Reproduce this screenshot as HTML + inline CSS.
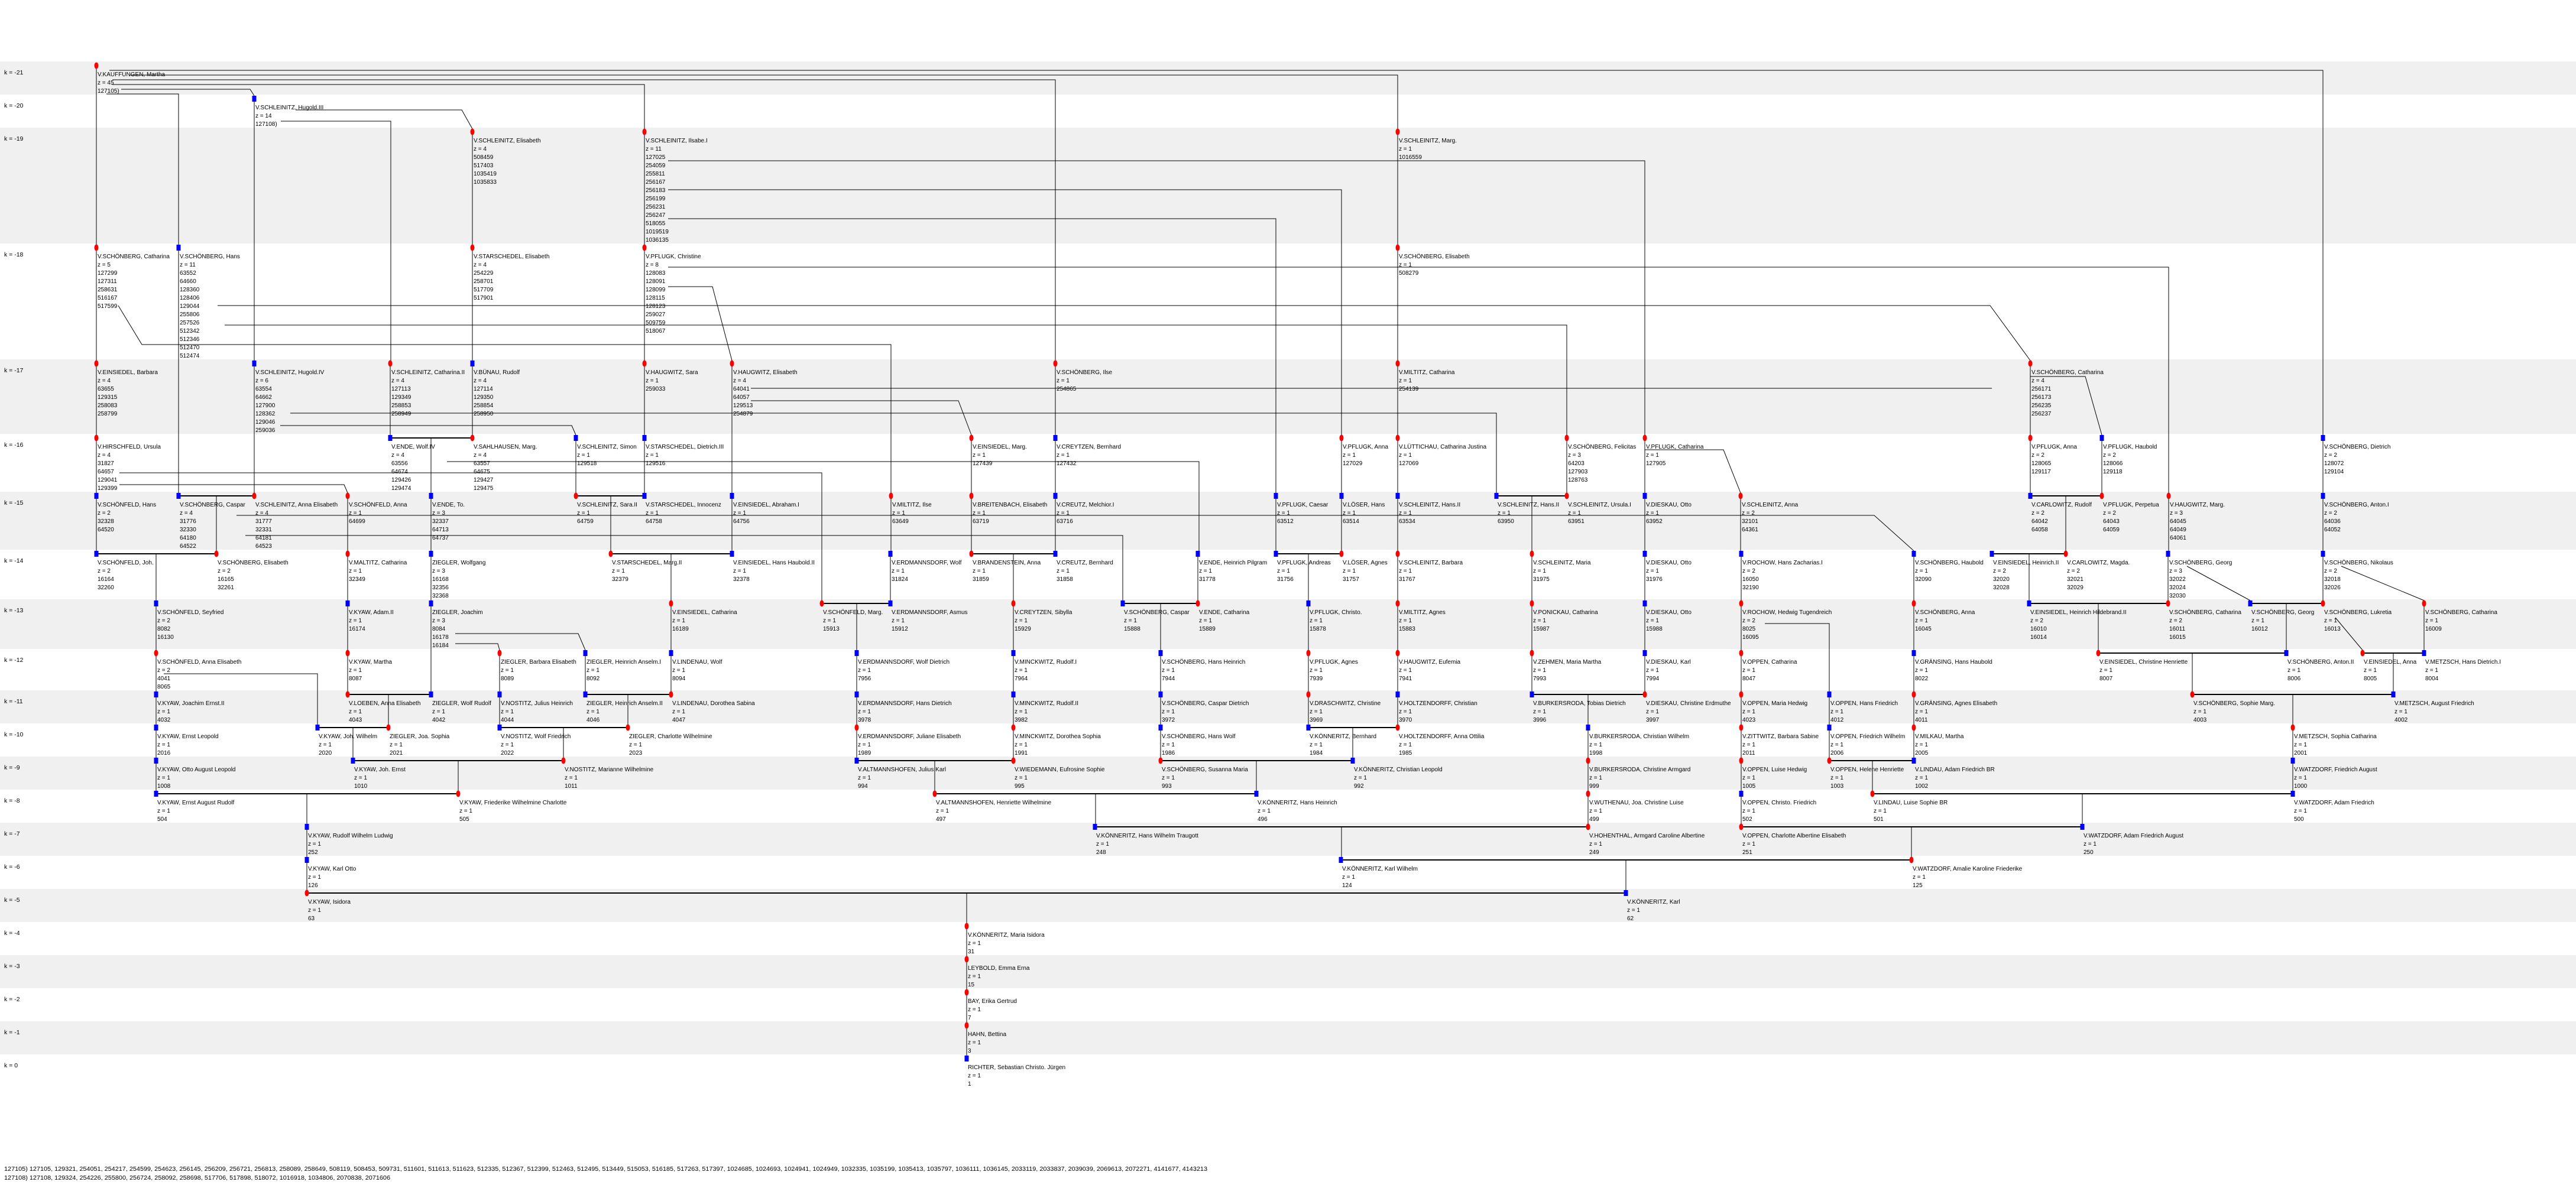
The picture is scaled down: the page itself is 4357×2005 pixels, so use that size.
<!DOCTYPE html>
<html><head><meta charset="utf-8"><style>
html,body{margin:0;padding:0;background:#fff;}
svg{display:block;}
text{font-family:"Liberation Sans",Arial,sans-serif;font-size:10px;fill:#000;}
.k{font-size:10.5px;}
.l{stroke:#000;stroke-width:1;fill:none;}
.c{stroke:#000;stroke-width:2;fill:none;}
</style></head><body>
<svg xmlns="http://www.w3.org/2000/svg" width="4357" height="2005" viewBox="0 0 4357 2005">
<rect width="4357" height="2005" fill="#fff"/>
<g fill="#f0f0f0">
<rect x="0" y="104" width="4357" height="56"/>
<rect x="0" y="216" width="4357" height="196"/>
<rect x="0" y="608" width="4357" height="126"/>
<rect x="0" y="832" width="4357" height="98"/>
<rect x="0" y="1014" width="4357" height="84"/>
<rect x="0" y="1168" width="4357" height="56"/>
<rect x="0" y="1280" width="4357" height="56"/>
<rect x="0" y="1392" width="4357" height="56"/>
<rect x="0" y="1504" width="4357" height="56"/>
<rect x="0" y="1616" width="4357" height="56"/>
<rect x="0" y="1728" width="4357" height="56"/>
</g>
<g>
<text class="k" x="7" y="126">k = -21</text>
<text class="k" x="7" y="182">k = -20</text>
<text class="k" x="7" y="238">k = -19</text>
<text class="k" x="7" y="434">k = -18</text>
<text class="k" x="7" y="630">k = -17</text>
<text class="k" x="7" y="756">k = -16</text>
<text class="k" x="7" y="854">k = -15</text>
<text class="k" x="7" y="952">k = -14</text>
<text class="k" x="7" y="1036">k = -13</text>
<text class="k" x="7" y="1120">k = -12</text>
<text class="k" x="7" y="1190">k = -11</text>
<text class="k" x="7" y="1246">k = -10</text>
<text class="k" x="7" y="1302">k = -9</text>
<text class="k" x="7" y="1358">k = -8</text>
<text class="k" x="7" y="1414">k = -7</text>
<text class="k" x="7" y="1470">k = -6</text>
<text class="k" x="7" y="1526">k = -5</text>
<text class="k" x="7" y="1582">k = -4</text>
<text class="k" x="7" y="1638">k = -3</text>
<text class="k" x="7" y="1694">k = -2</text>
<text class="k" x="7" y="1750">k = -1</text>
<text class="k" x="7" y="1806">k = 0</text>
</g>

<!-- long lines -->
<path class="l" d="
M185 119 H3929 V736
M220 127 H2364 V218
M190 135 H1785 V610
M190 143 H1090 V218
M205 151 H423 L430 162
M180 159 H302 V414
M500 186 H781 L799 218
M475 205 H661 V610
M1130 272 H2782 V736
M1130 321 H2269 V736
M1130 370 H2158 V834
M368 517 H3366 L3434 610
M380 550 H2650 V736
M200 517 L240 583 H1507 V834
M1130 452 H3668 V834
M1130 485 H1205 L1238 610
M491 699 H2531 V834
M474 720 H967 L974 736
M1270 657 H3369
M1270 678 H1621 L1643 736
M202 800 H1390 V1016
M202 820 H582 L588 834
M756 781 H2028 V932
M400 872 H3170 L3237 932
M415 906 H1899 V1016
M3434 637 H3527 L3555 736
M2782 761 H2915 L2944 834
M3699 958 L3806 1016
M3960 958 L4100 1016
M2985 1055 H3094 V1170
M3950 1045 L3996 1100
M770 1072 H978 L990 1100
M770 1089 H842 L845 1100
M277 1140 H537 V1226
"/>

<!-- child verticals -->
<path class="l" d="
M163 111 V414
M430 167 V610
M799 223 V414 M1090 223 V414 M2364 223 V414
M163 419 V610 M799 419 V610 M1090 419 V610 M2364 419 V610 M302 419 V834
M163 615 V736 M660 615 V736 M799 615 V736 M1090 615 V736 M1785 615 V736 M2364 615 V736 M3434 615 V736 M430 615 V834 M1238 615 V834
M729 741 V834 M163 741 V834 M974 741 V834 M1090 741 V834 M1643 741 V834 M1785 741 V834 M2269 741 V834 M2364 741 V834 M2650 741 V834 M2782 741 V834 M3434 741 V834 M3555 741 V834 M3929 741 V834
M163 839 V932 M588 839 V932 M729 839 V932 M1238 839 V932 M1507 839 V932 M1643 839 V932 M1785 839 V932 M2158 839 V932 M2269 839 V932 M2364 839 V932 M2782 839 V932 M2944 839 V932 M3668 839 V932 M3929 839 V932 M366 839 V932 M1033 839 V932 M2591 839 V932 M3494 839 V932
M264 937 V1016 M588 937 V1016 M729 937 V1016 M1135 937 V1016 M1506 937 V1016 M1714 937 V1016 M2026 937 V1016 M2213 937 V1016 M2364 937 V1016 M2591 937 V1016 M2782 937 V1016 M2945 937 V1016 M3237 937 V1016 M3432 937 V1016 M3667 937 V1016 M3929 937 V1016
M264 1021 V1100 M588 1021 V1100 M1135 1021 V1100 M1449 1021 V1100 M1714 1021 V1100 M1963 1021 V1100 M2213 1021 V1100 M2364 1021 V1100 M2591 1021 V1100 M2782 1021 V1100 M2945 1021 V1100 M3237 1021 V1100 M3549 1021 V1100 M3867 1021 V1100 M4100 1021 V1100 M729 1021 V1170
M264 1105 V1170 M588 1105 V1170 M845 1105 V1170 M990 1105 V1170 M1135 1105 V1170 M1449 1105 V1170 M1714 1105 V1170 M1963 1105 V1170 M2213 1105 V1170 M2364 1105 V1170 M2591 1105 V1170 M2782 1105 V1170 M2945 1105 V1170 M3237 1105 V1170 M3708 1105 V1170 M4048 1105 V1170
M264 1175 V1226 M657 1175 V1226 M845 1175 V1226 M1062 1175 V1226 M1449 1175 V1226 M1714 1175 V1226 M1963 1175 V1226 M2213 1175 V1226 M2364 1175 V1226 M2686 1175 V1226 M2945 1175 V1226 M3094 1175 V1226 M3237 1175 V1226 M3878 1175 V1226
M264 1231 V1282 M597 1231 V1282 M953 1231 V1282 M1449 1231 V1282 M1714 1231 V1282 M1963 1231 V1282 M2288 1231 V1282 M2686 1231 V1282 M2945 1231 V1282 M3094 1231 V1282 M3237 1231 V1282 M3878 1231 V1282
M264 1287 V1338 M775 1287 V1338 M1581 1287 V1338 M2125 1287 V1338 M2686 1287 V1338 M2945 1287 V1338 M3167 1287 V1338 M3878 1287 V1338
M519 1343 V1394 M1853 1343 V1394 M2686 1343 V1394 M2945 1343 V1394 M3522 1343 V1394
M519 1399 V1450 M2269 1399 V1450 M3233 1399 V1450
M519 1455 V1506 M2750 1455 V1506
M1635 1511 V1786
"/>

<!-- couple lines -->
<path class="c" d="
M660 741 H799
M302 839 H430 M974 839 H1090 M2531 839 H2650 M3434 839 H3555
M163 937 H366 M1033 937 H1238 M1643 937 H1785 M2158 937 H2269 M3369 937 H3494
M1390 1021 H1506 M1899 1021 H2026 M3432 1021 H3667 M3806 1021 H3929
M3549 1105 H3867 M3996 1105 H4100
M588 1175 H729 M990 1175 H1135 M2591 1175 H2782 M3708 1175 H4048
M537 1231 H657 M845 1231 H1062 M2213 1231 H2364
M597 1287 H953 M1449 1287 H1714 M1963 1287 H2288 M3094 1287 H3237
M264 1343 H775 M1581 1343 H2125 M3167 1343 H3878
M1852 1399 H2686 M2945 1399 H3522
M2268 1455 H3233
M519 1511 H2750
"/>

<!-- markers: red -->
<g fill="#f00">
<ellipse cx="163" cy="111" rx="3.5" ry="5.5"/>
<ellipse cx="799" cy="223" rx="3.5" ry="5.5"/><ellipse cx="1090" cy="223" rx="3.5" ry="5.5"/><ellipse cx="2364" cy="223" rx="3.5" ry="5.5"/>
<ellipse cx="163" cy="419" rx="3.5" ry="5.5"/><ellipse cx="799" cy="419" rx="3.5" ry="5.5"/><ellipse cx="1090" cy="419" rx="3.5" ry="5.5"/><ellipse cx="2364" cy="419" rx="3.5" ry="5.5"/>
<ellipse cx="163" cy="615" rx="3.5" ry="5.5"/><ellipse cx="660" cy="615" rx="3.5" ry="5.5"/><ellipse cx="1090" cy="615" rx="3.5" ry="5.5"/><ellipse cx="1238" cy="615" rx="3.5" ry="5.5"/><ellipse cx="1785" cy="615" rx="3.5" ry="5.5"/><ellipse cx="2364" cy="615" rx="3.5" ry="5.5"/><ellipse cx="3434" cy="615" rx="3.5" ry="5.5"/>
<ellipse cx="163" cy="741" rx="3.5" ry="5.5"/><ellipse cx="799" cy="741" rx="3.5" ry="5.5"/><ellipse cx="1643" cy="741" rx="3.5" ry="5.5"/><ellipse cx="2269" cy="741" rx="3.5" ry="5.5"/><ellipse cx="2364" cy="741" rx="3.5" ry="5.5"/><ellipse cx="2650" cy="741" rx="3.5" ry="5.5"/><ellipse cx="2782" cy="741" rx="3.5" ry="5.5"/><ellipse cx="3434" cy="741" rx="3.5" ry="5.5"/>
<ellipse cx="430" cy="839" rx="3.5" ry="5.5"/><ellipse cx="588" cy="839" rx="3.5" ry="5.5"/><ellipse cx="974" cy="839" rx="3.5" ry="5.5"/><ellipse cx="1507" cy="839" rx="3.5" ry="5.5"/><ellipse cx="1643" cy="839" rx="3.5" ry="5.5"/><ellipse cx="2650" cy="839" rx="3.5" ry="5.5"/><ellipse cx="2944" cy="839" rx="3.5" ry="5.5"/><ellipse cx="3555" cy="839" rx="3.5" ry="5.5"/><ellipse cx="3668" cy="839" rx="3.5" ry="5.5"/>
<ellipse cx="366" cy="937" rx="3.5" ry="5.5"/><ellipse cx="588" cy="937" rx="3.5" ry="5.5"/><ellipse cx="1033" cy="937" rx="3.5" ry="5.5"/><ellipse cx="1643" cy="937" rx="3.5" ry="5.5"/><ellipse cx="2269" cy="937" rx="3.5" ry="5.5"/><ellipse cx="2364" cy="937" rx="3.5" ry="5.5"/><ellipse cx="2591" cy="937" rx="3.5" ry="5.5"/><ellipse cx="3494" cy="937" rx="3.5" ry="5.5"/>
<ellipse cx="1135" cy="1021" rx="3.5" ry="5.5"/><ellipse cx="1390" cy="1021" rx="3.5" ry="5.5"/><ellipse cx="1714" cy="1021" rx="3.5" ry="5.5"/><ellipse cx="2026" cy="1021" rx="3.5" ry="5.5"/><ellipse cx="2364" cy="1021" rx="3.5" ry="5.5"/><ellipse cx="2591" cy="1021" rx="3.5" ry="5.5"/><ellipse cx="2945" cy="1021" rx="3.5" ry="5.5"/><ellipse cx="3237" cy="1021" rx="3.5" ry="5.5"/><ellipse cx="3667" cy="1021" rx="3.5" ry="5.5"/><ellipse cx="3929" cy="1021" rx="3.5" ry="5.5"/><ellipse cx="4100" cy="1021" rx="3.5" ry="5.5"/>
<ellipse cx="264" cy="1105" rx="3.5" ry="5.5"/><ellipse cx="588" cy="1105" rx="3.5" ry="5.5"/><ellipse cx="845" cy="1105" rx="3.5" ry="5.5"/><ellipse cx="2213" cy="1105" rx="3.5" ry="5.5"/><ellipse cx="2364" cy="1105" rx="3.5" ry="5.5"/><ellipse cx="2591" cy="1105" rx="3.5" ry="5.5"/><ellipse cx="2945" cy="1105" rx="3.5" ry="5.5"/><ellipse cx="3549" cy="1105" rx="3.5" ry="5.5"/><ellipse cx="3996" cy="1105" rx="3.5" ry="5.5"/>
<ellipse cx="588" cy="1175" rx="3.5" ry="5.5"/><ellipse cx="1135" cy="1175" rx="3.5" ry="5.5"/><ellipse cx="2213" cy="1175" rx="3.5" ry="5.5"/><ellipse cx="2782" cy="1175" rx="3.5" ry="5.5"/><ellipse cx="2945" cy="1175" rx="3.5" ry="5.5"/><ellipse cx="3237" cy="1175" rx="3.5" ry="5.5"/><ellipse cx="3708" cy="1175" rx="3.5" ry="5.5"/>
<ellipse cx="657" cy="1231" rx="3.5" ry="5.5"/><ellipse cx="1062" cy="1231" rx="3.5" ry="5.5"/><ellipse cx="1449" cy="1231" rx="3.5" ry="5.5"/><ellipse cx="1714" cy="1231" rx="3.5" ry="5.5"/><ellipse cx="2364" cy="1231" rx="3.5" ry="5.5"/><ellipse cx="2945" cy="1231" rx="3.5" ry="5.5"/><ellipse cx="3237" cy="1231" rx="3.5" ry="5.5"/><ellipse cx="3878" cy="1231" rx="3.5" ry="5.5"/>
<ellipse cx="953" cy="1287" rx="3.5" ry="5.5"/><ellipse cx="1714" cy="1287" rx="3.5" ry="5.5"/><ellipse cx="1963" cy="1287" rx="3.5" ry="5.5"/><ellipse cx="2686" cy="1287" rx="3.5" ry="5.5"/><ellipse cx="2945" cy="1287" rx="3.5" ry="5.5"/><ellipse cx="3094" cy="1287" rx="3.5" ry="5.5"/>
<ellipse cx="775" cy="1343" rx="3.5" ry="5.5"/><ellipse cx="1581" cy="1343" rx="3.5" ry="5.5"/><ellipse cx="2686" cy="1343" rx="3.5" ry="5.5"/><ellipse cx="3167" cy="1343" rx="3.5" ry="5.5"/>
<ellipse cx="2686" cy="1399" rx="3.5" ry="5.5"/><ellipse cx="2945" cy="1399" rx="3.5" ry="5.5"/>
<ellipse cx="3233" cy="1455" rx="3.5" ry="5.5"/>
<ellipse cx="519" cy="1511" rx="3.5" ry="5.5"/>
<ellipse cx="1635" cy="1567" rx="3.5" ry="5.5"/><ellipse cx="1635" cy="1623" rx="3.5" ry="5.5"/><ellipse cx="1635" cy="1679" rx="3.5" ry="5.5"/><ellipse cx="1635" cy="1735" rx="3.5" ry="5.5"/>
</g>
<!-- markers: blue -->
<g fill="#00f">
<rect x="426.5" y="162" width="7" height="10"/>
<rect x="298.5" y="414" width="7" height="10"/>
<rect x="426.5" y="610" width="7" height="10"/><rect x="795.5" y="610" width="7" height="10"/>
<rect x="656.5" y="736" width="7" height="10"/><rect x="970.5" y="736" width="7" height="10"/><rect x="1086.5" y="736" width="7" height="10"/><rect x="1781.5" y="736" width="7" height="10"/><rect x="3551.5" y="736" width="7" height="10"/><rect x="3925.5" y="736" width="7" height="10"/>
<rect x="159.5" y="834" width="7" height="10"/><rect x="298.5" y="834" width="7" height="10"/><rect x="725.5" y="834" width="7" height="10"/><rect x="1086.5" y="834" width="7" height="10"/><rect x="1234.5" y="834" width="7" height="10"/><rect x="1781.5" y="834" width="7" height="10"/><rect x="2154.5" y="834" width="7" height="10"/><rect x="2265.5" y="834" width="7" height="10"/><rect x="2360.5" y="834" width="7" height="10"/><rect x="2527.5" y="834" width="7" height="10"/><rect x="2778.5" y="834" width="7" height="10"/><rect x="3430.5" y="834" width="7" height="10"/><rect x="3925.5" y="834" width="7" height="10"/>
<rect x="159.5" y="932" width="7" height="10"/><rect x="725.5" y="932" width="7" height="10"/><rect x="1234.5" y="932" width="7" height="10"/><rect x="1502.5" y="932" width="7" height="10"/><rect x="1781.5" y="932" width="7" height="10"/><rect x="2022.5" y="932" width="7" height="10"/><rect x="2154.5" y="932" width="7" height="10"/><rect x="2778.5" y="932" width="7" height="10"/><rect x="2941.5" y="932" width="7" height="10"/><rect x="3233.5" y="932" width="7" height="10"/><rect x="3365.5" y="932" width="7" height="10"/><rect x="3663.5" y="932" width="7" height="10"/><rect x="3925.5" y="932" width="7" height="10"/>
<rect x="260.5" y="1016" width="7" height="10"/><rect x="584.5" y="1016" width="7" height="10"/><rect x="725.5" y="1016" width="7" height="10"/><rect x="1502.5" y="1016" width="7" height="10"/><rect x="1895.5" y="1016" width="7" height="10"/><rect x="2209.5" y="1016" width="7" height="10"/><rect x="2778.5" y="1016" width="7" height="10"/><rect x="3428.5" y="1016" width="7" height="10"/><rect x="3802.5" y="1016" width="7" height="10"/>
<rect x="986.5" y="1100" width="7" height="10"/><rect x="1131.5" y="1100" width="7" height="10"/><rect x="1445.5" y="1100" width="7" height="10"/><rect x="1710.5" y="1100" width="7" height="10"/><rect x="1959.5" y="1100" width="7" height="10"/><rect x="2778.5" y="1100" width="7" height="10"/><rect x="3233.5" y="1100" width="7" height="10"/><rect x="3863.5" y="1100" width="7" height="10"/><rect x="4096.5" y="1100" width="7" height="10"/>
<rect x="260.5" y="1170" width="7" height="10"/><rect x="725.5" y="1170" width="7" height="10"/><rect x="841.5" y="1170" width="7" height="10"/><rect x="986.5" y="1170" width="7" height="10"/><rect x="1445.5" y="1170" width="7" height="10"/><rect x="1710.5" y="1170" width="7" height="10"/><rect x="1959.5" y="1170" width="7" height="10"/><rect x="2360.5" y="1170" width="7" height="10"/><rect x="2587.5" y="1170" width="7" height="10"/><rect x="3090.5" y="1170" width="7" height="10"/><rect x="4044.5" y="1170" width="7" height="10"/>
<rect x="260.5" y="1226" width="7" height="10"/><rect x="533.5" y="1226" width="7" height="10"/><rect x="841.5" y="1226" width="7" height="10"/><rect x="1959.5" y="1226" width="7" height="10"/><rect x="2209.5" y="1226" width="7" height="10"/><rect x="2682.5" y="1226" width="7" height="10"/><rect x="3090.5" y="1226" width="7" height="10"/>
<rect x="260.5" y="1282" width="7" height="10"/><rect x="593.5" y="1282" width="7" height="10"/><rect x="1445.5" y="1282" width="7" height="10"/><rect x="2284.5" y="1282" width="7" height="10"/><rect x="3233.5" y="1282" width="7" height="10"/><rect x="3874.5" y="1282" width="7" height="10"/>
<rect x="260.5" y="1338" width="7" height="10"/><rect x="2121.5" y="1338" width="7" height="10"/><rect x="2941.5" y="1338" width="7" height="10"/><rect x="3874.5" y="1338" width="7" height="10"/>
<rect x="515.5" y="1394" width="7" height="10"/><rect x="1848.5" y="1394" width="7" height="10"/><rect x="3518.5" y="1394" width="7" height="10"/>
<rect x="515.5" y="1450" width="7" height="10"/><rect x="2264.5" y="1450" width="7" height="10"/>
<rect x="2746.5" y="1506" width="7" height="10"/>
<rect x="1631.5" y="1786" width="7" height="10"/>
</g>

<!-- node texts -->
<g>
<text x="165" y="129">V.KAUFFUNGEN, Martha<tspan x="165" dy="14">z = 45</tspan><tspan x="165" dy="14">127105)</tspan></text>
<text x="432" y="185">V.SCHLEINITZ, Hugold.III<tspan x="432" dy="14">z = 14</tspan><tspan x="432" dy="14">127108)</tspan></text>

<text x="801" y="241">V.SCHLEINITZ, Elisabeth<tspan x="801" dy="14">z = 4</tspan><tspan x="801" dy="14">508459</tspan><tspan x="801" dy="14">517403</tspan><tspan x="801" dy="14">1035419</tspan><tspan x="801" dy="14">1035833</tspan></text>
<text x="1092" y="241">V.SCHLEINITZ, Ilsabe.I<tspan x="1092" dy="14">z = 11</tspan><tspan x="1092" dy="14">127025</tspan><tspan x="1092" dy="14">254059</tspan><tspan x="1092" dy="14">255811</tspan><tspan x="1092" dy="14">256167</tspan><tspan x="1092" dy="14">256183</tspan><tspan x="1092" dy="14">256199</tspan><tspan x="1092" dy="14">256231</tspan><tspan x="1092" dy="14">256247</tspan><tspan x="1092" dy="14">518055</tspan><tspan x="1092" dy="14">1019519</tspan><tspan x="1092" dy="14">1036135</tspan></text>
<text x="2366" y="241">V.SCHLEINITZ, Marg.<tspan x="2366" dy="14">z = 1</tspan><tspan x="2366" dy="14">1016559</tspan></text>

<text x="165" y="437">V.SCHÖNBERG, Catharina<tspan x="165" dy="14">z = 5</tspan><tspan x="165" dy="14">127299</tspan><tspan x="165" dy="14">127311</tspan><tspan x="165" dy="14">258631</tspan><tspan x="165" dy="14">516167</tspan><tspan x="165" dy="14">517599</tspan></text>
<text x="304" y="437">V.SCHÖNBERG, Hans<tspan x="304" dy="14">z = 11</tspan><tspan x="304" dy="14">63552</tspan><tspan x="304" dy="14">64660</tspan><tspan x="304" dy="14">128360</tspan><tspan x="304" dy="14">128406</tspan><tspan x="304" dy="14">129044</tspan><tspan x="304" dy="14">255806</tspan><tspan x="304" dy="14">257526</tspan><tspan x="304" dy="14">512342</tspan><tspan x="304" dy="14">512346</tspan><tspan x="304" dy="14">512470</tspan><tspan x="304" dy="14">512474</tspan></text>
<text x="801" y="437">V.STARSCHEDEL, Elisabeth<tspan x="801" dy="14">z = 4</tspan><tspan x="801" dy="14">254229</tspan><tspan x="801" dy="14">258701</tspan><tspan x="801" dy="14">517709</tspan><tspan x="801" dy="14">517901</tspan></text>
<text x="1092" y="437">V.PFLUGK, Christine<tspan x="1092" dy="14">z = 8</tspan><tspan x="1092" dy="14">128083</tspan><tspan x="1092" dy="14">128091</tspan><tspan x="1092" dy="14">128099</tspan><tspan x="1092" dy="14">128115</tspan><tspan x="1092" dy="14">128123</tspan><tspan x="1092" dy="14">259027</tspan><tspan x="1092" dy="14">509759</tspan><tspan x="1092" dy="14">518067</tspan></text>
<text x="2366" y="437">V.SCHÖNBERG, Elisabeth<tspan x="2366" dy="14">z = 1</tspan><tspan x="2366" dy="14">508279</tspan></text>

<text x="165" y="633">V.EINSIEDEL, Barbara<tspan x="165" dy="14">z = 4</tspan><tspan x="165" dy="14">63655</tspan><tspan x="165" dy="14">129315</tspan><tspan x="165" dy="14">258083</tspan><tspan x="165" dy="14">258799</tspan></text>
<text x="432" y="633">V.SCHLEINITZ, Hugold.IV<tspan x="432" dy="14">z = 6</tspan><tspan x="432" dy="14">63554</tspan><tspan x="432" dy="14">64662</tspan><tspan x="432" dy="14">127900</tspan><tspan x="432" dy="14">128362</tspan><tspan x="432" dy="14">129046</tspan><tspan x="432" dy="14">259036</tspan></text>
<text x="662" y="633">V.SCHLEINITZ, Catharina.II<tspan x="662" dy="14">z = 4</tspan><tspan x="662" dy="14">127113</tspan><tspan x="662" dy="14">129349</tspan><tspan x="662" dy="14">258853</tspan><tspan x="662" dy="14">258949</tspan></text>
<text x="801" y="633">V.BÜNAU, Rudolf<tspan x="801" dy="14">z = 4</tspan><tspan x="801" dy="14">127114</tspan><tspan x="801" dy="14">129350</tspan><tspan x="801" dy="14">258854</tspan><tspan x="801" dy="14">258950</tspan></text>
<text x="1092" y="633">V.HAUGWITZ, Sara<tspan x="1092" dy="14">z = 1</tspan><tspan x="1092" dy="14">259033</tspan></text>
<text x="1240" y="633">V.HAUGWITZ, Elisabeth<tspan x="1240" dy="14">z = 4</tspan><tspan x="1240" dy="14">64041</tspan><tspan x="1240" dy="14">64057</tspan><tspan x="1240" dy="14">129513</tspan><tspan x="1240" dy="14">254879</tspan></text>
<text x="1787" y="633">V.SCHÖNBERG, Ilse<tspan x="1787" dy="14">z = 1</tspan><tspan x="1787" dy="14">254865</tspan></text>
<text x="2366" y="633">V.MILTITZ, Catharina<tspan x="2366" dy="14">z = 1</tspan><tspan x="2366" dy="14">254139</tspan></text>
<text x="3436" y="633">V.SCHÖNBERG, Catharina<tspan x="3436" dy="14">z = 4</tspan><tspan x="3436" dy="14">256171</tspan><tspan x="3436" dy="14">256173</tspan><tspan x="3436" dy="14">256235</tspan><tspan x="3436" dy="14">256237</tspan></text>

<text x="165" y="759">V.HIRSCHFELD, Ursula<tspan x="165" dy="14">z = 4</tspan><tspan x="165" dy="14">31827</tspan><tspan x="165" dy="14">64657</tspan><tspan x="165" dy="14">129041</tspan><tspan x="165" dy="14">129399</tspan></text>
<text x="662" y="759">V.ENDE, Wolf.IV<tspan x="662" dy="14">z = 4</tspan><tspan x="662" dy="14">63556</tspan><tspan x="662" dy="14">64674</tspan><tspan x="662" dy="14">129426</tspan><tspan x="662" dy="14">129474</tspan></text>
<text x="801" y="759">V.SAHLHAUSEN, Marg.<tspan x="801" dy="14">z = 4</tspan><tspan x="801" dy="14">63557</tspan><tspan x="801" dy="14">64675</tspan><tspan x="801" dy="14">129427</tspan><tspan x="801" dy="14">129475</tspan></text>
<text x="976" y="759">V.SCHLEINITZ, Simon<tspan x="976" dy="14">z = 1</tspan><tspan x="976" dy="14">129518</tspan></text>
<text x="1092" y="759">V.STARSCHEDEL, Dietrich.III<tspan x="1092" dy="14">z = 1</tspan><tspan x="1092" dy="14">129516</tspan></text>
<text x="1645" y="759">V.EINSIEDEL, Marg.<tspan x="1645" dy="14">z = 1</tspan><tspan x="1645" dy="14">127439</tspan></text>
<text x="1787" y="759">V.CREYTZEN, Bernhard<tspan x="1787" dy="14">z = 1</tspan><tspan x="1787" dy="14">127432</tspan></text>
<text x="2271" y="759">V.PFLUGK, Anna<tspan x="2271" dy="14">z = 1</tspan><tspan x="2271" dy="14">127029</tspan></text>
<text x="2366" y="759">V.LÜTTICHAU, Catharina Justina<tspan x="2366" dy="14">z = 1</tspan><tspan x="2366" dy="14">127069</tspan></text>
<text x="2652" y="759">V.SCHÖNBERG, Felicitas<tspan x="2652" dy="14">z = 3</tspan><tspan x="2652" dy="14">64203</tspan><tspan x="2652" dy="14">127903</tspan><tspan x="2652" dy="14">128763</tspan></text>
<text x="2784" y="759">V.PFLUGK, Catharina<tspan x="2784" dy="14">z = 1</tspan><tspan x="2784" dy="14">127905</tspan></text>
<text x="3436" y="759">V.PFLUGK, Anna<tspan x="3436" dy="14">z = 2</tspan><tspan x="3436" dy="14">128065</tspan><tspan x="3436" dy="14">129117</tspan></text>
<text x="3557" y="759">V.PFLUGK, Haubold<tspan x="3557" dy="14">z = 2</tspan><tspan x="3557" dy="14">128066</tspan><tspan x="3557" dy="14">129118</tspan></text>
<text x="3931" y="759">V.SCHÖNBERG, Dietrich<tspan x="3931" dy="14">z = 2</tspan><tspan x="3931" dy="14">128072</tspan><tspan x="3931" dy="14">129104</tspan></text>

<text x="165" y="857">V.SCHÖNFELD, Hans<tspan x="165" dy="14">z = 2</tspan><tspan x="165" dy="14">32328</tspan><tspan x="165" dy="14">64520</tspan></text>
<text x="304" y="857">V.SCHÖNBERG, Caspar<tspan x="304" dy="14">z = 4</tspan><tspan x="304" dy="14">31776</tspan><tspan x="304" dy="14">32330</tspan><tspan x="304" dy="14">64180</tspan><tspan x="304" dy="14">64522</tspan></text>
<text x="432" y="857">V.SCHLEINITZ, Anna Elisabeth<tspan x="432" dy="14">z = 4</tspan><tspan x="432" dy="14">31777</tspan><tspan x="432" dy="14">32331</tspan><tspan x="432" dy="14">64181</tspan><tspan x="432" dy="14">64523</tspan></text>
<text x="590" y="857">V.SCHÖNFELD, Anna<tspan x="590" dy="14">z = 1</tspan><tspan x="590" dy="14">64699</tspan></text>
<text x="731" y="857">V.ENDE, To.<tspan x="731" dy="14">z = 3</tspan><tspan x="731" dy="14">32337</tspan><tspan x="731" dy="14">64713</tspan><tspan x="731" dy="14">64737</tspan></text>
<text x="976" y="857">V.SCHLEINITZ, Sara.II<tspan x="976" dy="14">z = 1</tspan><tspan x="976" dy="14">64759</tspan></text>
<text x="1092" y="857">V.STARSCHEDEL, Innocenz<tspan x="1092" dy="14">z = 1</tspan><tspan x="1092" dy="14">64758</tspan></text>
<text x="1240" y="857">V.EINSIEDEL, Abraham.I<tspan x="1240" dy="14">z = 1</tspan><tspan x="1240" dy="14">64756</tspan></text>
<text x="1509" y="857">V.MILTITZ, Ilse<tspan x="1509" dy="14">z = 1</tspan><tspan x="1509" dy="14">63649</tspan></text>
<text x="1645" y="857">V.BREITENBACH, Elisabeth<tspan x="1645" dy="14">z = 1</tspan><tspan x="1645" dy="14">63719</tspan></text>
<text x="1787" y="857">V.CREUTZ, Melchior.I<tspan x="1787" dy="14">z = 1</tspan><tspan x="1787" dy="14">63716</tspan></text>
<text x="2160" y="857">V.PFLUGK, Caesar<tspan x="2160" dy="14">z = 1</tspan><tspan x="2160" dy="14">63512</tspan></text>
<text x="2271" y="857">V.LÖSER, Hans<tspan x="2271" dy="14">z = 1</tspan><tspan x="2271" dy="14">63514</tspan></text>
<text x="2366" y="857">V.SCHLEINITZ, Hans.II<tspan x="2366" dy="14">z = 1</tspan><tspan x="2366" dy="14">63534</tspan></text>
<text x="2533" y="857">V.SCHLEINITZ, Hans.II<tspan x="2533" dy="14">z = 1</tspan><tspan x="2533" dy="14">63950</tspan></text>
<text x="2652" y="857">V.SCHLEINITZ, Ursula.I<tspan x="2652" dy="14">z = 1</tspan><tspan x="2652" dy="14">63951</tspan></text>
<text x="2784" y="857">V.DIESKAU, Otto<tspan x="2784" dy="14">z = 1</tspan><tspan x="2784" dy="14">63952</tspan></text>
<text x="2946" y="857">V.SCHLEINITZ, Anna<tspan x="2946" dy="14">z = 2</tspan><tspan x="2946" dy="14">32101</tspan><tspan x="2946" dy="14">64361</tspan></text>
<text x="3436" y="857">V.CARLOWITZ, Rudolf<tspan x="3436" dy="14">z = 2</tspan><tspan x="3436" dy="14">64042</tspan><tspan x="3436" dy="14">64058</tspan></text>
<text x="3557" y="857">V.PFLUGK, Perpetua<tspan x="3557" dy="14">z = 2</tspan><tspan x="3557" dy="14">64043</tspan><tspan x="3557" dy="14">64059</tspan></text>
<text x="3670" y="857">V.HAUGWITZ, Marg.<tspan x="3670" dy="14">z = 3</tspan><tspan x="3670" dy="14">64045</tspan><tspan x="3670" dy="14">64049</tspan><tspan x="3670" dy="14">64061</tspan></text>
<text x="3931" y="857">V.SCHÖNBERG, Anton.I<tspan x="3931" dy="14">z = 2</tspan><tspan x="3931" dy="14">64036</tspan><tspan x="3931" dy="14">64052</tspan></text>

<text x="165" y="955">V.SCHÖNFELD, Joh.<tspan x="165" dy="14">z = 2</tspan><tspan x="165" dy="14">16164</tspan><tspan x="165" dy="14">32260</tspan></text>
<text x="368" y="955">V.SCHÖNBERG, Elisabeth<tspan x="368" dy="14">z = 2</tspan><tspan x="368" dy="14">16165</tspan><tspan x="368" dy="14">32261</tspan></text>
<text x="590" y="955">V.MALTITZ, Catharina<tspan x="590" dy="14">z = 1</tspan><tspan x="590" dy="14">32349</tspan></text>
<text x="731" y="955">ZIEGLER, Wolfgang<tspan x="731" dy="14">z = 3</tspan><tspan x="731" dy="14">16168</tspan><tspan x="731" dy="14">32356</tspan><tspan x="731" dy="14">32368</tspan></text>
<text x="1035" y="955">V.STARSCHEDEL, Marg.II<tspan x="1035" dy="14">z = 1</tspan><tspan x="1035" dy="14">32379</tspan></text>
<text x="1240" y="955">V.EINSIEDEL, Hans Haubold.II<tspan x="1240" dy="14">z = 1</tspan><tspan x="1240" dy="14">32378</tspan></text>
<text x="1508" y="955">V.ERDMANNSDORF, Wolf<tspan x="1508" dy="14">z = 1</tspan><tspan x="1508" dy="14">31824</tspan></text>
<text x="1645" y="955">V.BRANDENSTEIN, Anna<tspan x="1645" dy="14">z = 1</tspan><tspan x="1645" dy="14">31859</tspan></text>
<text x="1787" y="955">V.CREUTZ, Bernhard<tspan x="1787" dy="14">z = 1</tspan><tspan x="1787" dy="14">31858</tspan></text>
<text x="2028" y="955">V.ENDE, Heinrich Pilgram<tspan x="2028" dy="14">z = 1</tspan><tspan x="2028" dy="14">31778</tspan></text>
<text x="2160" y="955">V.PFLUGK, Andreas<tspan x="2160" dy="14">z = 1</tspan><tspan x="2160" dy="14">31756</tspan></text>
<text x="2271" y="955">V.LÖSER, Agnes<tspan x="2271" dy="14">z = 1</tspan><tspan x="2271" dy="14">31757</tspan></text>
<text x="2366" y="955">V.SCHLEINITZ, Barbara<tspan x="2366" dy="14">z = 1</tspan><tspan x="2366" dy="14">31767</tspan></text>
<text x="2593" y="955">V.SCHLEINITZ, Maria<tspan x="2593" dy="14">z = 1</tspan><tspan x="2593" dy="14">31975</tspan></text>
<text x="2784" y="955">V.DIESKAU, Otto<tspan x="2784" dy="14">z = 1</tspan><tspan x="2784" dy="14">31976</tspan></text>
<text x="2947" y="955">V.ROCHOW, Hans Zacharias.I<tspan x="2947" dy="14">z = 2</tspan><tspan x="2947" dy="14">16050</tspan><tspan x="2947" dy="14">32190</tspan></text>
<text x="3239" y="955">V.SCHÖNBERG, Haubold<tspan x="3239" dy="14">z = 1</tspan><tspan x="3239" dy="14">32090</tspan></text>
<text x="3371" y="955">V.EINSIEDEL, Heinrich.II<tspan x="3371" dy="14">z = 2</tspan><tspan x="3371" dy="14">32020</tspan><tspan x="3371" dy="14">32028</tspan></text>
<text x="3496" y="955">V.CARLOWITZ, Magda.<tspan x="3496" dy="14">z = 2</tspan><tspan x="3496" dy="14">32021</tspan><tspan x="3496" dy="14">32029</tspan></text>
<text x="3669" y="955">V.SCHÖNBERG, Georg<tspan x="3669" dy="14">z = 3</tspan><tspan x="3669" dy="14">32022</tspan><tspan x="3669" dy="14">32024</tspan><tspan x="3669" dy="14">32030</tspan></text>
<text x="3931" y="955">V.SCHÖNBERG, Nikolaus<tspan x="3931" dy="14">z = 2</tspan><tspan x="3931" dy="14">32018</tspan><tspan x="3931" dy="14">32026</tspan></text>

<text x="266" y="1039">V.SCHÖNFELD, Seyfried<tspan x="266" dy="14">z = 2</tspan><tspan x="266" dy="14">8082</tspan><tspan x="266" dy="14">16130</tspan></text>
<text x="590" y="1039">V.KYAW, Adam.II<tspan x="590" dy="14">z = 1</tspan><tspan x="590" dy="14">16174</tspan></text>
<text x="731" y="1039">ZIEGLER, Joachim<tspan x="731" dy="14">z = 3</tspan><tspan x="731" dy="14">8084</tspan><tspan x="731" dy="14">16178</tspan><tspan x="731" dy="14">16184</tspan></text>
<text x="1137" y="1039">V.EINSIEDEL, Catharina<tspan x="1137" dy="14">z = 1</tspan><tspan x="1137" dy="14">16189</tspan></text>
<text x="1392" y="1039">V.SCHÖNFELD, Marg.<tspan x="1392" dy="14">z = 1</tspan><tspan x="1392" dy="14">15913</tspan></text>
<text x="1508" y="1039">V.ERDMANNSDORF, Asmus<tspan x="1508" dy="14">z = 1</tspan><tspan x="1508" dy="14">15912</tspan></text>
<text x="1716" y="1039">V.CREYTZEN, Sibylla<tspan x="1716" dy="14">z = 1</tspan><tspan x="1716" dy="14">15929</tspan></text>
<text x="1901" y="1039">V.SCHÖNBERG, Caspar<tspan x="1901" dy="14">z = 1</tspan><tspan x="1901" dy="14">15888</tspan></text>
<text x="2028" y="1039">V.ENDE, Catharina<tspan x="2028" dy="14">z = 1</tspan><tspan x="2028" dy="14">15889</tspan></text>
<text x="2215" y="1039">V.PFLUGK, Christo.<tspan x="2215" dy="14">z = 1</tspan><tspan x="2215" dy="14">15878</tspan></text>
<text x="2366" y="1039">V.MILTITZ, Agnes<tspan x="2366" dy="14">z = 1</tspan><tspan x="2366" dy="14">15883</tspan></text>
<text x="2593" y="1039">V.PONICKAU, Catharina<tspan x="2593" dy="14">z = 1</tspan><tspan x="2593" dy="14">15987</tspan></text>
<text x="2784" y="1039">V.DIESKAU, Otto<tspan x="2784" dy="14">z = 1</tspan><tspan x="2784" dy="14">15988</tspan></text>
<text x="2947" y="1039">V.ROCHOW, Hedwig Tugendreich<tspan x="2947" dy="14">z = 2</tspan><tspan x="2947" dy="14">8025</tspan><tspan x="2947" dy="14">16095</tspan></text>
<text x="3239" y="1039">V.SCHÖNBERG, Anna<tspan x="3239" dy="14">z = 1</tspan><tspan x="3239" dy="14">16045</tspan></text>
<text x="3434" y="1039">V.EINSIEDEL, Heinrich Hildebrand.II<tspan x="3434" dy="14">z = 2</tspan><tspan x="3434" dy="14">16010</tspan><tspan x="3434" dy="14">16014</tspan></text>
<text x="3669" y="1039">V.SCHÖNBERG, Catharina<tspan x="3669" dy="14">z = 2</tspan><tspan x="3669" dy="14">16011</tspan><tspan x="3669" dy="14">16015</tspan></text>
<text x="3808" y="1039">V.SCHÖNBERG, Georg<tspan x="3808" dy="14">z = 1</tspan><tspan x="3808" dy="14">16012</tspan></text>
<text x="3931" y="1039">V.SCHÖNBERG, Lukretia<tspan x="3931" dy="14">z = 1</tspan><tspan x="3931" dy="14">16013</tspan></text>
<text x="4102" y="1039">V.SCHÖNBERG, Catharina<tspan x="4102" dy="14">z = 1</tspan><tspan x="4102" dy="14">16009</tspan></text>

<text x="266" y="1123">V.SCHÖNFELD, Anna Elisabeth<tspan x="266" dy="14">z = 2</tspan><tspan x="266" dy="14">4041</tspan><tspan x="266" dy="14">8065</tspan></text>
<text x="590" y="1123">V.KYAW, Martha<tspan x="590" dy="14">z = 1</tspan><tspan x="590" dy="14">8087</tspan></text>
<text x="847" y="1123">ZIEGLER, Barbara Elisabeth<tspan x="847" dy="14">z = 1</tspan><tspan x="847" dy="14">8089</tspan></text>
<text x="992" y="1123">ZIEGLER, Heinrich Anselm.I<tspan x="992" dy="14">z = 1</tspan><tspan x="992" dy="14">8092</tspan></text>
<text x="1137" y="1123">V.LINDENAU, Wolf<tspan x="1137" dy="14">z = 1</tspan><tspan x="1137" dy="14">8094</tspan></text>
<text x="1451" y="1123">V.ERDMANNSDORF, Wolf Dietrich<tspan x="1451" dy="14">z = 1</tspan><tspan x="1451" dy="14">7956</tspan></text>
<text x="1716" y="1123">V.MINCKWITZ, Rudolf.I<tspan x="1716" dy="14">z = 1</tspan><tspan x="1716" dy="14">7964</tspan></text>
<text x="1965" y="1123">V.SCHÖNBERG, Hans Heinrich<tspan x="1965" dy="14">z = 1</tspan><tspan x="1965" dy="14">7944</tspan></text>
<text x="2215" y="1123">V.PFLUGK, Agnes<tspan x="2215" dy="14">z = 1</tspan><tspan x="2215" dy="14">7939</tspan></text>
<text x="2366" y="1123">V.HAUGWITZ, Eufemia<tspan x="2366" dy="14">z = 1</tspan><tspan x="2366" dy="14">7941</tspan></text>
<text x="2593" y="1123">V.ZEHMEN, Maria Martha<tspan x="2593" dy="14">z = 1</tspan><tspan x="2593" dy="14">7993</tspan></text>
<text x="2784" y="1123">V.DIESKAU, Karl<tspan x="2784" dy="14">z = 1</tspan><tspan x="2784" dy="14">7994</tspan></text>
<text x="2947" y="1123">V.OPPEN, Catharina<tspan x="2947" dy="14">z = 1</tspan><tspan x="2947" dy="14">8047</tspan></text>
<text x="3239" y="1123">V.GRÄNSING, Hans Haubold<tspan x="3239" dy="14">z = 1</tspan><tspan x="3239" dy="14">8022</tspan></text>
<text x="3551" y="1123">V.EINSIEDEL, Christine Henriette<tspan x="3551" dy="14">z = 1</tspan><tspan x="3551" dy="14">8007</tspan></text>
<text x="3869" y="1123">V.SCHÖNBERG, Anton.II<tspan x="3869" dy="14">z = 1</tspan><tspan x="3869" dy="14">8006</tspan></text>
<text x="3998" y="1123">V.EINSIEDEL, Anna<tspan x="3998" dy="14">z = 1</tspan><tspan x="3998" dy="14">8005</tspan></text>
<text x="4102" y="1123">V.METZSCH, Hans Dietrich.I<tspan x="4102" dy="14">z = 1</tspan><tspan x="4102" dy="14">8004</tspan></text>

<text x="266" y="1193">V.KYAW, Joachim Ernst.II<tspan x="266" dy="14">z = 1</tspan><tspan x="266" dy="14">4032</tspan></text>
<text x="590" y="1193">V.LOEBEN, Anna Elisabeth<tspan x="590" dy="14">z = 1</tspan><tspan x="590" dy="14">4043</tspan></text>
<text x="731" y="1193">ZIEGLER, Wolf Rudolf<tspan x="731" dy="14">z = 1</tspan><tspan x="731" dy="14">4042</tspan></text>
<text x="847" y="1193">V.NOSTITZ, Julius Heinrich<tspan x="847" dy="14">z = 1</tspan><tspan x="847" dy="14">4044</tspan></text>
<text x="992" y="1193">ZIEGLER, Heinrich Anselm.II<tspan x="992" dy="14">z = 1</tspan><tspan x="992" dy="14">4046</tspan></text>
<text x="1137" y="1193">V.LINDENAU, Dorothea Sabina<tspan x="1137" dy="14">z = 1</tspan><tspan x="1137" dy="14">4047</tspan></text>
<text x="1451" y="1193">V.ERDMANNSDORF, Hans Dietrich<tspan x="1451" dy="14">z = 1</tspan><tspan x="1451" dy="14">3978</tspan></text>
<text x="1716" y="1193">V.MINCKWITZ, Rudolf.II<tspan x="1716" dy="14">z = 1</tspan><tspan x="1716" dy="14">3982</tspan></text>
<text x="1965" y="1193">V.SCHÖNBERG, Caspar Dietrich<tspan x="1965" dy="14">z = 1</tspan><tspan x="1965" dy="14">3972</tspan></text>
<text x="2215" y="1193">V.DRASCHWITZ, Christine<tspan x="2215" dy="14">z = 1</tspan><tspan x="2215" dy="14">3969</tspan></text>
<text x="2366" y="1193">V.HOLTZENDORFF, Christian<tspan x="2366" dy="14">z = 1</tspan><tspan x="2366" dy="14">3970</tspan></text>
<text x="2593" y="1193">V.BURKERSRODA, Tobias Dietrich<tspan x="2593" dy="14">z = 1</tspan><tspan x="2593" dy="14">3996</tspan></text>
<text x="2784" y="1193">V.DIESKAU, Christine Erdmuthe<tspan x="2784" dy="14">z = 1</tspan><tspan x="2784" dy="14">3997</tspan></text>
<text x="2947" y="1193">V.OPPEN, Maria Hedwig<tspan x="2947" dy="14">z = 1</tspan><tspan x="2947" dy="14">4023</tspan></text>
<text x="3096" y="1193">V.OPPEN, Hans Friedrich<tspan x="3096" dy="14">z = 1</tspan><tspan x="3096" dy="14">4012</tspan></text>
<text x="3239" y="1193">V.GRÄNSING, Agnes Elisabeth<tspan x="3239" dy="14">z = 1</tspan><tspan x="3239" dy="14">4011</tspan></text>
<text x="3710" y="1193">V.SCHÖNBERG, Sophie Marg.<tspan x="3710" dy="14">z = 1</tspan><tspan x="3710" dy="14">4003</tspan></text>
<text x="4050" y="1193">V.METZSCH, August Friedrich<tspan x="4050" dy="14">z = 1</tspan><tspan x="4050" dy="14">4002</tspan></text>

<text x="266" y="1249">V.KYAW, Ernst Leopold<tspan x="266" dy="14">z = 1</tspan><tspan x="266" dy="14">2016</tspan></text>
<text x="539" y="1249">V.KYAW, Joh. Wilhelm<tspan x="539" dy="14">z = 1</tspan><tspan x="539" dy="14">2020</tspan></text>
<text x="659" y="1249">ZIEGLER, Joa. Sophia<tspan x="659" dy="14">z = 1</tspan><tspan x="659" dy="14">2021</tspan></text>
<text x="847" y="1249">V.NOSTITZ, Wolf Friedrich<tspan x="847" dy="14">z = 1</tspan><tspan x="847" dy="14">2022</tspan></text>
<text x="1064" y="1249">ZIEGLER, Charlotte Wilhelmine<tspan x="1064" dy="14">z = 1</tspan><tspan x="1064" dy="14">2023</tspan></text>
<text x="1451" y="1249">V.ERDMANNSDORF, Juliane Elisabeth<tspan x="1451" dy="14">z = 1</tspan><tspan x="1451" dy="14">1989</tspan></text>
<text x="1716" y="1249">V.MINCKWITZ, Dorothea Sophia<tspan x="1716" dy="14">z = 1</tspan><tspan x="1716" dy="14">1991</tspan></text>
<text x="1965" y="1249">V.SCHÖNBERG, Hans Wolf<tspan x="1965" dy="14">z = 1</tspan><tspan x="1965" dy="14">1986</tspan></text>
<text x="2215" y="1249">V.KÖNNERITZ, Bernhard<tspan x="2215" dy="14">z = 1</tspan><tspan x="2215" dy="14">1984</tspan></text>
<text x="2366" y="1249">V.HOLTZENDORFF, Anna Ottilia<tspan x="2366" dy="14">z = 1</tspan><tspan x="2366" dy="14">1985</tspan></text>
<text x="2688" y="1249">V.BURKERSRODA, Christian Wilhelm<tspan x="2688" dy="14">z = 1</tspan><tspan x="2688" dy="14">1998</tspan></text>
<text x="2947" y="1249">V.ZITTWITZ, Barbara Sabine<tspan x="2947" dy="14">z = 1</tspan><tspan x="2947" dy="14">2011</tspan></text>
<text x="3096" y="1249">V.OPPEN, Friedrich Wilhelm<tspan x="3096" dy="14">z = 1</tspan><tspan x="3096" dy="14">2006</tspan></text>
<text x="3239" y="1249">V.MILKAU, Martha<tspan x="3239" dy="14">z = 1</tspan><tspan x="3239" dy="14">2005</tspan></text>
<text x="3880" y="1249">V.METZSCH, Sophia Catharina<tspan x="3880" dy="14">z = 1</tspan><tspan x="3880" dy="14">2001</tspan></text>

<text x="266" y="1305">V.KYAW, Otto August Leopold<tspan x="266" dy="14">z = 1</tspan><tspan x="266" dy="14">1008</tspan></text>
<text x="599" y="1305">V.KYAW, Joh. Ernst<tspan x="599" dy="14">z = 1</tspan><tspan x="599" dy="14">1010</tspan></text>
<text x="955" y="1305">V.NOSTITZ, Marianne Wilhelmine<tspan x="955" dy="14">z = 1</tspan><tspan x="955" dy="14">1011</tspan></text>
<text x="1451" y="1305">V.ALTMANNSHOFEN, Julius Karl<tspan x="1451" dy="14">z = 1</tspan><tspan x="1451" dy="14">994</tspan></text>
<text x="1716" y="1305">V.WIEDEMANN, Eufrosine Sophie<tspan x="1716" dy="14">z = 1</tspan><tspan x="1716" dy="14">995</tspan></text>
<text x="1965" y="1305">V.SCHÖNBERG, Susanna Maria<tspan x="1965" dy="14">z = 1</tspan><tspan x="1965" dy="14">993</tspan></text>
<text x="2290" y="1305">V.KÖNNERITZ, Christian Leopold<tspan x="2290" dy="14">z = 1</tspan><tspan x="2290" dy="14">992</tspan></text>
<text x="2688" y="1305">V.BURKERSRODA, Christine Armgard<tspan x="2688" dy="14">z = 1</tspan><tspan x="2688" dy="14">999</tspan></text>
<text x="2947" y="1305">V.OPPEN, Luise Hedwig<tspan x="2947" dy="14">z = 1</tspan><tspan x="2947" dy="14">1005</tspan></text>
<text x="3096" y="1305">V.OPPEN, Helene Henriette<tspan x="3096" dy="14">z = 1</tspan><tspan x="3096" dy="14">1003</tspan></text>
<text x="3239" y="1305">V.LINDAU, Adam Friedrich BR<tspan x="3239" dy="14">z = 1</tspan><tspan x="3239" dy="14">1002</tspan></text>
<text x="3880" y="1305">V.WATZDORF, Friedrich August<tspan x="3880" dy="14">z = 1</tspan><tspan x="3880" dy="14">1000</tspan></text>

<text x="266" y="1361">V.KYAW, Ernst August Rudolf<tspan x="266" dy="14">z = 1</tspan><tspan x="266" dy="14">504</tspan></text>
<text x="777" y="1361">V.KYAW, Friederike Wilhelmine Charlotte<tspan x="777" dy="14">z = 1</tspan><tspan x="777" dy="14">505</tspan></text>
<text x="1583" y="1361">V.ALTMANNSHOFEN, Henriette Wilhelmine<tspan x="1583" dy="14">z = 1</tspan><tspan x="1583" dy="14">497</tspan></text>
<text x="2127" y="1361">V.KÖNNERITZ, Hans Heinrich<tspan x="2127" dy="14">z = 1</tspan><tspan x="2127" dy="14">496</tspan></text>
<text x="2688" y="1361">V.WUTHENAU, Joa. Christine Luise<tspan x="2688" dy="14">z = 1</tspan><tspan x="2688" dy="14">499</tspan></text>
<text x="2947" y="1361">V.OPPEN, Christo. Friedrich<tspan x="2947" dy="14">z = 1</tspan><tspan x="2947" dy="14">502</tspan></text>
<text x="3169" y="1361">V.LINDAU, Luise Sophie BR<tspan x="3169" dy="14">z = 1</tspan><tspan x="3169" dy="14">501</tspan></text>
<text x="3880" y="1361">V.WATZDORF, Adam Friedrich<tspan x="3880" dy="14">z = 1</tspan><tspan x="3880" dy="14">500</tspan></text>

<text x="521" y="1417">V.KYAW, Rudolf Wilhelm Ludwig<tspan x="521" dy="14">z = 1</tspan><tspan x="521" dy="14">252</tspan></text>
<text x="1854" y="1417">V.KÖNNERITZ, Hans Wilhelm Traugott<tspan x="1854" dy="14">z = 1</tspan><tspan x="1854" dy="14">248</tspan></text>
<text x="2688" y="1417">V.HOHENTHAL, Armgard Caroline Albertine<tspan x="2688" dy="14">z = 1</tspan><tspan x="2688" dy="14">249</tspan></text>
<text x="2947" y="1417">V.OPPEN, Charlotte Albertine Elisabeth<tspan x="2947" dy="14">z = 1</tspan><tspan x="2947" dy="14">251</tspan></text>
<text x="3524" y="1417">V.WATZDORF, Adam Friedrich August<tspan x="3524" dy="14">z = 1</tspan><tspan x="3524" dy="14">250</tspan></text>

<text x="521" y="1473">V.KYAW, Karl Otto<tspan x="521" dy="14">z = 1</tspan><tspan x="521" dy="14">126</tspan></text>
<text x="2270" y="1473">V.KÖNNERITZ, Karl Wilhelm<tspan x="2270" dy="14">z = 1</tspan><tspan x="2270" dy="14">124</tspan></text>
<text x="3235" y="1473">V.WATZDORF, Amalie Karoline Friederike<tspan x="3235" dy="14">z = 1</tspan><tspan x="3235" dy="14">125</tspan></text>

<text x="521" y="1529">V.KYAW, Isidora<tspan x="521" dy="14">z = 1</tspan><tspan x="521" dy="14">63</tspan></text>
<text x="2752" y="1529">V.KÖNNERITZ, Karl<tspan x="2752" dy="14">z = 1</tspan><tspan x="2752" dy="14">62</tspan></text>

<text x="1637" y="1585">V.KÖNNERITZ, Maria Isidora<tspan x="1637" dy="14">z = 1</tspan><tspan x="1637" dy="14">31</tspan></text>
<text x="1637" y="1641">LEYBOLD, Emma Erna<tspan x="1637" dy="14">z = 1</tspan><tspan x="1637" dy="14">15</tspan></text>
<text x="1637" y="1697">BAY, Erika Gertrud<tspan x="1637" dy="14">z = 1</tspan><tspan x="1637" dy="14">7</tspan></text>
<text x="1637" y="1753">HAHN, Bettina<tspan x="1637" dy="14">z = 1</tspan><tspan x="1637" dy="14">3</tspan></text>
<text x="1637" y="1809">RICHTER, Sebastian Christo. Jürgen<tspan x="1637" dy="14">z = 1</tspan><tspan x="1637" dy="14">1</tspan></text>
</g>

<text x="7" y="1981" textLength="2035" lengthAdjust="spacingAndGlyphs">127105)  127105, 129321, 254051, 254217, 254599, 254623, 256145, 256209, 256721, 256813, 258089, 258649, 508119, 508453, 509731, 511601, 511613, 511623, 512335, 512367, 512399, 512463, 512495, 513449, 515053, 516185, 517263, 517397, 1024685, 1024693, 1024941, 1024949, 1032335, 1035199, 1035413, 1035797, 1036111, 1036145, 2033119, 2033837, 2039039, 2069613, 2072271, 4141677, 4143213</text>
<text x="7" y="1996" textLength="653" lengthAdjust="spacingAndGlyphs">127108)  127108, 129324, 254226, 255800, 256724, 258092, 258698, 517706, 517898, 518072, 1016918, 1034806, 2070838, 2071606</text>
</svg>
</body></html>
